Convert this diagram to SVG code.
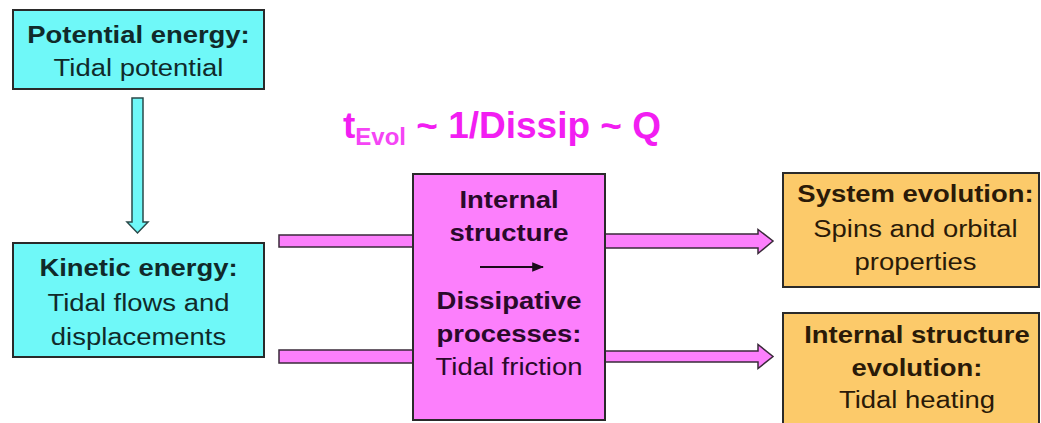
<svg xmlns="http://www.w3.org/2000/svg" width="1041" height="423" viewBox="0 0 1041 423">
<defs>
<style>
.box{stroke:#2a2a2a;stroke-width:2}
.cyan{fill:#6ff8f8}
.pink{fill:#fc7ffc}
.orange{fill:#fcca6a}
.conn{fill:#fc7ffc;stroke:#3a2a3a;stroke-width:1.5}
.cconn{fill:#6ff8f8;stroke:#2a4a4a;stroke-width:1.5}
text{font-family:"Liberation Sans",Arial,sans-serif;text-anchor:middle;font-size:24.5px}
.t{transform-box:fill-box;transform-origin:center;transform:scaleX(1.12)}
.b{font-weight:bold}
.dc{fill:#102a2a}
.dp{fill:#2a0a2a}
.do{fill:#2a1a08}
text.title{font-weight:bold;fill:#f21ef2;text-anchor:start;font-size:37px}
.sub{font-size:24px;fill:#f545f5}
</style>
<marker id="ah" viewBox="0 0 10 10" refX="9" refY="5" markerWidth="6" markerHeight="6" orient="auto">
<path d="M0,1 L10,5 L0,9 z" fill="#1a0a1a"/>
</marker>
</defs>
<rect width="1041" height="423" fill="#ffffff"/>

<g id="connectors">
<path class="cconn" d="M132,98 H143 V222 H148 L137.5,233 L127,222 H132 Z"/>
<rect class="conn" x="279" y="235" width="134" height="12"/>
<rect class="conn" x="279" y="350" width="134" height="13"/>
<path class="conn" d="M605,234 H758 V229.5 L773,241 L758,253.5 V248 H605 Z"/>
<path class="conn" d="M605,351 H758 V344.5 L773,356.5 L758,368.5 V362 H605 Z"/>
</g>

<g id="title">
<text class="title" x="343" y="138">t<tspan class="sub" dy="7">Evol</tspan><tspan dy="-7"> ~ 1/Dissip ~ Q</tspan></text>
</g>

<g id="potential">
<rect class="box cyan" x="13" y="10" width="251" height="79"/>
<text class="t b dc" x="138.5" y="43">Potential energy:</text>
<text class="t dc" x="138.5" y="76">Tidal potential</text>
</g>

<g id="kinetic">
<rect class="box cyan" x="13" y="243" width="251" height="114"/>
<text class="t b dc" x="138.5" y="276">Kinetic energy:</text>
<text class="t dc" x="138.5" y="311">Tidal flows and</text>
<text class="t dc" x="138.5" y="345">displacements</text>
</g>

<g id="dissipation">
<rect class="box pink" x="413" y="174" width="192" height="246"/>
<text class="t b dp" x="509" y="208">Internal</text>
<text class="t b dp" x="509" y="241">structure</text>
<line x1="480" y1="267" x2="543" y2="267" stroke="#1a0a1a" stroke-width="2" marker-end="url(#ah)"/>
<text class="t b dp" x="509" y="309">Dissipative</text>
<text class="t b dp" x="509" y="342">processes:</text>
<text class="t dp" x="509" y="375">Tidal friction</text>
</g>

<g id="system">
<rect class="box orange" x="783" y="173" width="256" height="114"/>
<text class="t b do" x="915.5" y="202">System evolution:</text>
<text class="t do" x="915.5" y="237">Spins and orbital</text>
<text class="t do" x="915.5" y="270">properties</text>
</g>

<g id="internal">
<rect class="box orange" x="783" y="313" width="256" height="120"/>
<text class="t b do" x="917" y="343">Internal structure</text>
<text class="t b do" x="917" y="376">evolution:</text>
<text class="t do" x="917" y="408">Tidal heating</text>
</g>
</svg>
